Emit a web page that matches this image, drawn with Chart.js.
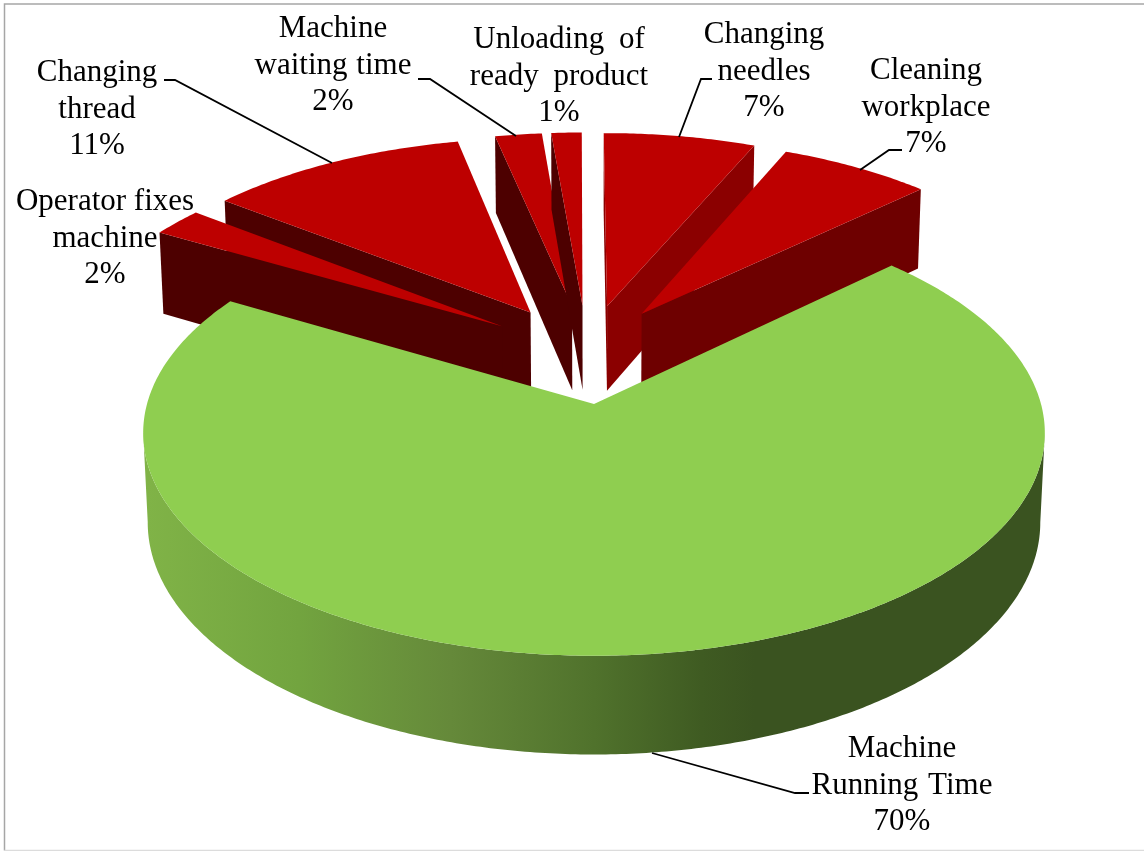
<!DOCTYPE html>
<html lang="en">
<head>
  <meta charset="UTF-8" />
  <title>Machine time breakdown</title>
  <script src="https://cdn.jsdelivr.net/npm/chart.js"></script>
  <style>
    html, body { margin: 0; padding: 0; background: #fff; }
    canvas { display: block; }
  </style>
</head>
<body>
  <canvas id="pie" width="1144" height="851"></canvas>
  <script>
    // clockwise from the right edge of the green slice
    const categories = [
      ["Machine", "Running Time"],
      ["Operator fixes", "machine"],
      ["Changing", "thread"],
      ["Machine", "waiting time"],
      ["Unloading of", "ready product"],
      ["Changing", "needles"],
      ["Cleaning", "workplace"]
    ];
    // printed labels are whole percents, slice widths read a little finer off the picture
    const values = [70.4, 2.2, 11.1, 2, 1.3, 6.5, 6.5];
    const topColors = ["#8fce50", "#bd0000", "#bd0000", "#bd0000", "#bd0000", "#bd0000", "#bd0000"];
    const sideColors = ["#3a5320", "#4d0000", "#4d0000", "#4d0000", "#4d0000", "#8b0000", "#6e0000"];

    // label anchor (centre x, first baseline y) and leader line for each slice
    const labelPos = [[902, 757], [105, 210], [97, 81], [333, 37], [559, 48], [764, 43], [926, 79]];
    const labelWordGap = ["2px", "0px", "0px", "1px", "7px", "0px", "0px"];
    const leaders = [
      [[809, 793], [795, 793], [652, 753]],
      null,
      [[164, 80], [175, 80], [332, 163]],
      [[418, 79], [430, 79], [516, 136]],
      null,
      [[712, 79], [701, 79], [679, 137]],
      [[902, 150], [889, 150], [860, 170]]
    ];

    // slices painted back to front
    const paintOrder = [2, 3, 4, 5, 6, 1, 0];
    const explode = 0.24;
    const sliceShift = [0, 0.012, 0.006, 0.012, 0.012, 0.012, 0.004];
    const persp = 0.13;
    const tilt = 0.49;
    const depth = 0.2;
    const zShrink = 0.01;
    const greenWall = [[0, "#80b347"], [0.17, "#72a43f"], [0.34, "#65893a"], [0.5, "#50722c"], [0.62, "#3f5b22"], [0.68, "#3a5320"], [1, "#3a5320"]];

    const pie3d = {
      id: "pie3d",
      beforeDatasetsDraw(chart) {
        const ctx = chart.ctx;
        const arcs = chart.getDatasetMeta(0).data;
        const green = arcs[0];
        const greenMid = (green.startAngle + green.endAngle) / 2;
        const shiftX = -explode * Math.cos(greenMid);
        const shiftY = -explode * Math.sin(greenMid);

        const project = (arc, X, Y, z) => {
          const R = arc.outerRadius;
          const w = 1 - persp * Y + zShrink * z;
          return [arc.x + R * X / w, arc.y + R * (tilt * Y + depth * z) / w];
        };

        const fillPoly = pts => {
          ctx.beginPath();
          pts.forEach((t, n) => n === 0 ? ctx.moveTo(t[0], t[1]) : ctx.lineTo(t[0], t[1]));
          ctx.closePath();
          ctx.fill();
        };

        paintOrder.forEach(i => {
          const arc = arcs[i];
          const mid = (arc.startAngle + arc.endAngle) / 2;
          const cx = explode * Math.cos(mid) + shiftX + sliceShift[i];
          const cy = explode * Math.sin(mid) + shiftY;
          const outline = [[cx, cy]];
          const steps = Math.ceil((arc.endAngle - arc.startAngle) / 0.01);
          for (let s = 0; s <= steps; s++) {
            const a = arc.startAngle + (arc.endAngle - arc.startAngle) * s / steps;
            outline.push([cx + Math.cos(a), cy + Math.sin(a)]);
          }

          let wallFill = sideColors[i];
          if (i === 0) {
            wallFill = ctx.createLinearGradient(arc.x - arc.outerRadius, 0, arc.x + arc.outerRadius, 0);
            greenWall.forEach(stop => wallFill.addColorStop(stop[0], stop[1]));
          }

          // walls facing the viewer, one polygon per unbroken run of edges
          ctx.fillStyle = wallFill;
          let run = [];
          const flush = () => {
            if (run.length) {
              const top = run.map(p => project(arc, p[0], p[1], 0));
              const bottom = run.map(p => project(arc, p[0], p[1], 1)).reverse();
              fillPoly(top.concat(bottom));
            }
            run = [];
          };
          outline.forEach((p, n) => {
            const q = outline[(n + 1) % outline.length];
            if (project(arc, q[0], q[1], 0)[0] - project(arc, p[0], p[1], 0)[0] < 0) {
              if (!run.length) run.push(p);
              run.push(q);
            } else {
              flush();
            }
          });
          flush();

          // top face
          ctx.fillStyle = arc.options.backgroundColor;
          fillPoly(outline.map(p => project(arc, p[0], p[1], 0)));
        });
        return false;
      },
      afterDraw(chart) {
        const ctx = chart.ctx;

        // frame
        ctx.strokeStyle = "#a6a6a6";
        ctx.lineWidth = 1.5;
        ctx.beginPath();
        ctx.moveTo(4.5, 850.5);
        ctx.lineTo(4.5, 4);
        ctx.lineTo(1144, 4);
        ctx.stroke();
        ctx.strokeStyle = "#dcdcdc";
        ctx.beginPath();
        ctx.moveTo(4.5, 850.5);
        ctx.lineTo(1144, 850.5);
        ctx.stroke();

        // leader lines
        ctx.strokeStyle = "#000";
        ctx.lineWidth = 1.8;
        leaders.forEach(line => {
          if (!line) return;
          ctx.beginPath();
          line.forEach((p, n) => n === 0 ? ctx.moveTo(p[0], p[1]) : ctx.lineTo(p[0], p[1]));
          ctx.stroke();
        });

        // labels
        ctx.font = '31px "Liberation Serif"';
        ctx.fillStyle = "#000";
        ctx.textAlign = "center";
        ctx.textBaseline = "alphabetic";
        categories.forEach((lines, i) => {
          const [x, y] = labelPos[i];
          ctx.wordSpacing = labelWordGap[i];
          ctx.fillText(lines[0], x, y);
          ctx.fillText(lines[1], x, y + 36.5);
          ctx.fillText(Math.round(values[i]) + "%", x, y + 73);
        });
      }
    };

    new Chart(document.getElementById("pie"), {
      type: "pie",
      data: {
        labels: categories.map(c => c.join(" ")),
        datasets: [{
          data: values,
          backgroundColor: topColors,
          borderWidth: 0,
          radius: 447
        }]
      },
      options: {
        responsive: false,
        animation: false,
        rotation: 46.5,
        // puts the pie centre at x 594, y 404
        layout: { padding: { left: 44, bottom: 43 } },
        plugins: { legend: { display: false }, tooltip: { enabled: false } }
      },
      plugins: [pie3d]
    });
  </script>
</body>
</html>
